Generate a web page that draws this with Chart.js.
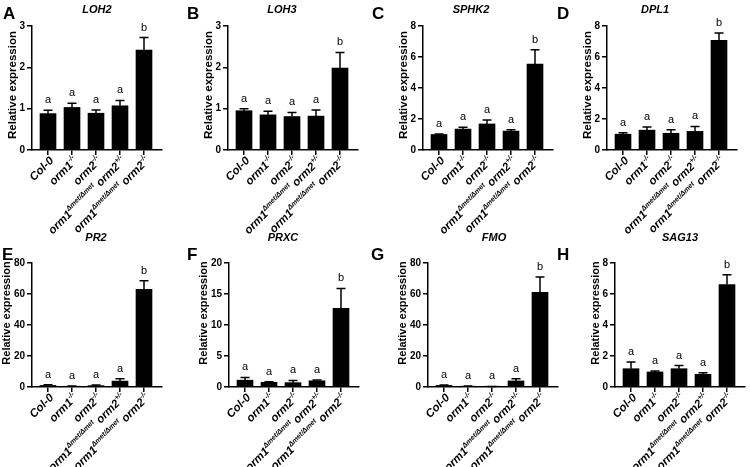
<!DOCTYPE html>
<html>
<head>
<meta charset="utf-8">
<script src="https://cdn.jsdelivr.net/npm/chart.js@4.4.0/dist/chart.umd.min.js"></script>
<style>
  html, body { margin: 0; padding: 0; background: #fff; overflow: hidden; width: 750px; height: 467px; }
  #fig { position: relative; width: 750px; height: 467px; }
  #fig canvas { position: absolute; }
  .tag { position: absolute; font: bold 17px 'Liberation Sans', Arial, sans-serif; line-height: 1; color: #000; }
</style>
</head>
<body>
<div id="fig"></div>
<script>
// genotypes on the x axis, ^{...} marks superscript
const categories = [
  'Col-0',
  'orm1^{-/-}',
  'orm2^{-/-}',
  'orm1^{Δmet/Δmet} orm2^{+/-}',
  'orm1^{Δmet/Δmet} orm2^{-/-}'
];
const genes = ['LOH2', 'LOH3', 'SPHK2', 'DPL1', 'PR2', 'PRXC', 'FMO', 'SAG13'];
const panelTags = ['A', 'B', 'C', 'D', 'E', 'F', 'G', 'H'];
const yMax = [3, 3, 8, 8, 80, 20, 80, 8];
const yStep = [1, 1, 2, 2, 20, 5, 20, 2];
const sigLetters = ['a', 'a', 'a', 'a', 'b'];

const meanLOH2 = [0.88, 1.03, 0.89, 1.07, 2.42];
const semLOH2 = [0.08, 0.10, 0.08, 0.13, 0.30];
const meanLOH3 = [0.95, 0.85, 0.81, 0.82, 1.98];
const semLOH3 = [0.05, 0.09, 0.10, 0.15, 0.38];
const meanSPHK2 = [1.0, 1.35, 1.68, 1.22, 5.55];
const semSPHK2 = [0.03, 0.12, 0.25, 0.08, 0.92];
const meanDPL1 = [1.02, 1.28, 1.08, 1.2, 7.08];
const semDPL1 = [0.1, 0.2, 0.22, 0.32, 0.47];
const meanPR2 = [1.0, 0.5, 0.9, 3.8, 63.0];
const semPR2 = [0.5, 0.2, 0.4, 1.6, 5.5];
const meanPRXC = [1.1, 0.75, 0.7, 1.0, 12.7];
const semPRXC = [0.45, 0.1, 0.35, 0.12, 3.2];
const meanFMO = [1.0, 0.5, 0.3, 3.9, 61.0];
const semFMO = [0.3, 0.1, 0.1, 1.4, 10.0];
const meanSAG13 = [1.18, 0.97, 1.18, 0.82, 6.6];
const semSAG13 = [0.43, 0.07, 0.2, 0.1, 0.65];

const means = [meanLOH2, meanLOH3, meanSPHK2, meanDPL1, meanPR2, meanPRXC, meanFMO, meanSAG13];
const sems = [semLOH2, semLOH3, semSPHK2, semDPL1, semPR2, semPRXC, semFMO, semSAG13];

// layout of each panel on the page
const axisX = [32, 228, 423, 607, 32, 229, 428, 615];
const titleCX = [97, 282, 471, 655, 96, 283, 494, 680];
const tagPos = [[3, 5], [187, 5], [372, 5], [557, 5], [2, 246], [187, 246], [371, 246], [557, 246]];

const FONT = "'Liberation Sans', Arial, sans-serif";
Chart.defaults.font.family = FONT;
Chart.defaults.color = '#000';

const fig = document.getElementById('fig');

function drawRichLabel(ctx, text, x, y) {
  const parts = [];
  text.replace(/\^\{([^}]*)\}|([^^]+)/g, (m, sup, plain) => {
    parts.push(sup !== undefined ? { t: sup, sup: true } : { t: plain, sup: false });
  });
  const mainFont = 'italic bold 11.5px ' + FONT;
  const supFont = 'italic bold 7px ' + FONT;
  let total = 0;
  parts.forEach(p => { ctx.font = p.sup ? supFont : mainFont; p.w = ctx.measureText(p.t).width; total += p.w; });
  ctx.save();
  ctx.translate(x, y);
  ctx.rotate(-Math.PI / 4);
  ctx.textAlign = 'left';
  ctx.textBaseline = 'middle';
  ctx.fillStyle = '#000';
  let cx = -total;
  parts.forEach(p => {
    ctx.font = p.sup ? supFont : mainFont;
    ctx.fillText(p.t, cx, p.sup ? -4 : 0);
    cx += p.w;
  });
  ctx.restore();
}

const AREA_LEFT = 36;   // chart area left inside each canvas
const AREA_W = 130;     // x axis length
const PAD_RIGHT = 4;

function makePanel(i) {
  const topRow = i < 4;
  const top = topRow ? 0 : 230;
  const h = topRow ? 240 : 237;
  const left = axisX[i] - AREA_LEFT;
  const w = AREA_LEFT + AREA_W + PAD_RIGHT;
  const canvas = document.createElement('canvas');
  canvas.width = w;
  canvas.height = h;
  canvas.style.left = left + 'px';
  canvas.style.top = top + 'px';
  canvas.style.width = w + 'px';
  canvas.style.height = h + 'px';
  fig.appendChild(canvas);

  const tag = document.createElement('div');
  tag.className = 'tag';
  tag.textContent = panelTags[i];
  tag.style.left = tagPos[i][0] + 'px';
  tag.style.top = tagPos[i][1] + 'px';
  fig.appendChild(tag);

  const errs = sems[i];
  const single = yMax[i] < 10;
  const marks = {
    id: 'marks',
    afterDatasetsDraw(chart) {
      const ctx = chart.ctx;
      const ys = chart.scales.y;
      const meta = chart.getDatasetMeta(0);
      ctx.save();
      ctx.strokeStyle = '#000';
      ctx.lineWidth = 1.5;
      ctx.fillStyle = '#000';
      ctx.font = '11px ' + FONT;
      ctx.textAlign = 'center';
      ctx.textBaseline = 'alphabetic';
      meta.data.forEach((bar, k) => {
        const yb = ys.getPixelForValue(means[i][k]);
        const yt = ys.getPixelForValue(means[i][k] + errs[k]);
        ctx.beginPath();
        ctx.moveTo(bar.x, yb);
        ctx.lineTo(bar.x, yt);
        ctx.moveTo(bar.x - 4.5, yt);
        ctx.lineTo(bar.x + 4.5, yt);
        ctx.stroke();
        ctx.fillText(sigLetters[k], bar.x, yt - 7);
      });
      ctx.restore();
    },
    afterDraw(chart) {
      const ctx = chart.ctx;
      const xs = chart.scales.x;
      const area = chart.chartArea;
      categories.forEach((c, k) => {
        drawRichLabel(ctx, c, xs.getPixelForValue(k) + 4, area.bottom + 9);
      });
      ctx.save();
      ctx.fillStyle = '#000';
      ctx.textAlign = 'center';
      ctx.textBaseline = 'middle';
      // gene name over the panel
      ctx.font = 'italic bold 11px ' + FONT;
      ctx.fillText(genes[i], area.left + titleCX[i] - axisX[i], topRow ? 9.5 : 8);
      // y axis title
      ctx.translate(area.left - (single ? 19 : 25), (area.top + area.bottom) / 2 - (topRow ? 3 : 12));
      ctx.rotate(-Math.PI / 2);
      ctx.font = 'bold ' + (topRow ? 11.5 : 11) + 'px ' + FONT;
      ctx.fillText('Relative expression', 0, 0);
      ctx.restore();
    }
  };

  new Chart(canvas, {
    type: 'bar',
    data: {
      datasets: [{
        data: means[i].map((v, k) => ({ x: k, y: v })),
        backgroundColor: '#000',
        borderWidth: 0,
        barThickness: 16
      }]
    },
    options: {
      responsive: false,
      animation: false,
      devicePixelRatio: 1,
      layout: {
        padding: { left: 0, right: PAD_RIGHT, top: topRow ? 26 : 33, bottom: topRow ? 85 : 75 }
      },
      plugins: {
        legend: { display: false },
        tooltip: { enabled: false },
        title: { display: false }
      },
      scales: {
        x: {
          type: 'linear',
          min: -0.667,
          max: 4.75,
          offset: false,
          afterBuildTicks: s => { s.ticks = categories.map((c, k) => ({ value: k })); },
          ticks: { display: false },
          grid: { display: true, offset: false, drawOnChartArea: false, color: '#000', lineWidth: 1.5, tickLength: 5 },
          border: { display: true, color: '#000', width: 1.5 }
        },
        y: {
          min: 0,
          max: yMax[i],
          afterFit: s => { s.width = AREA_LEFT; },
          ticks: { stepSize: yStep[i], padding: 2, color: '#000', font: { size: 10, weight: 'bold' } },
          grid: { display: true, drawOnChartArea: false, color: '#000', lineWidth: 1.5, tickLength: 5 },
          border: { display: true, color: '#000', width: 1.5 }
        }
      }
    },
    plugins: [marks]
  });
}

genes.forEach((g, i) => makePanel(i));
</script>
</body>
</html>
